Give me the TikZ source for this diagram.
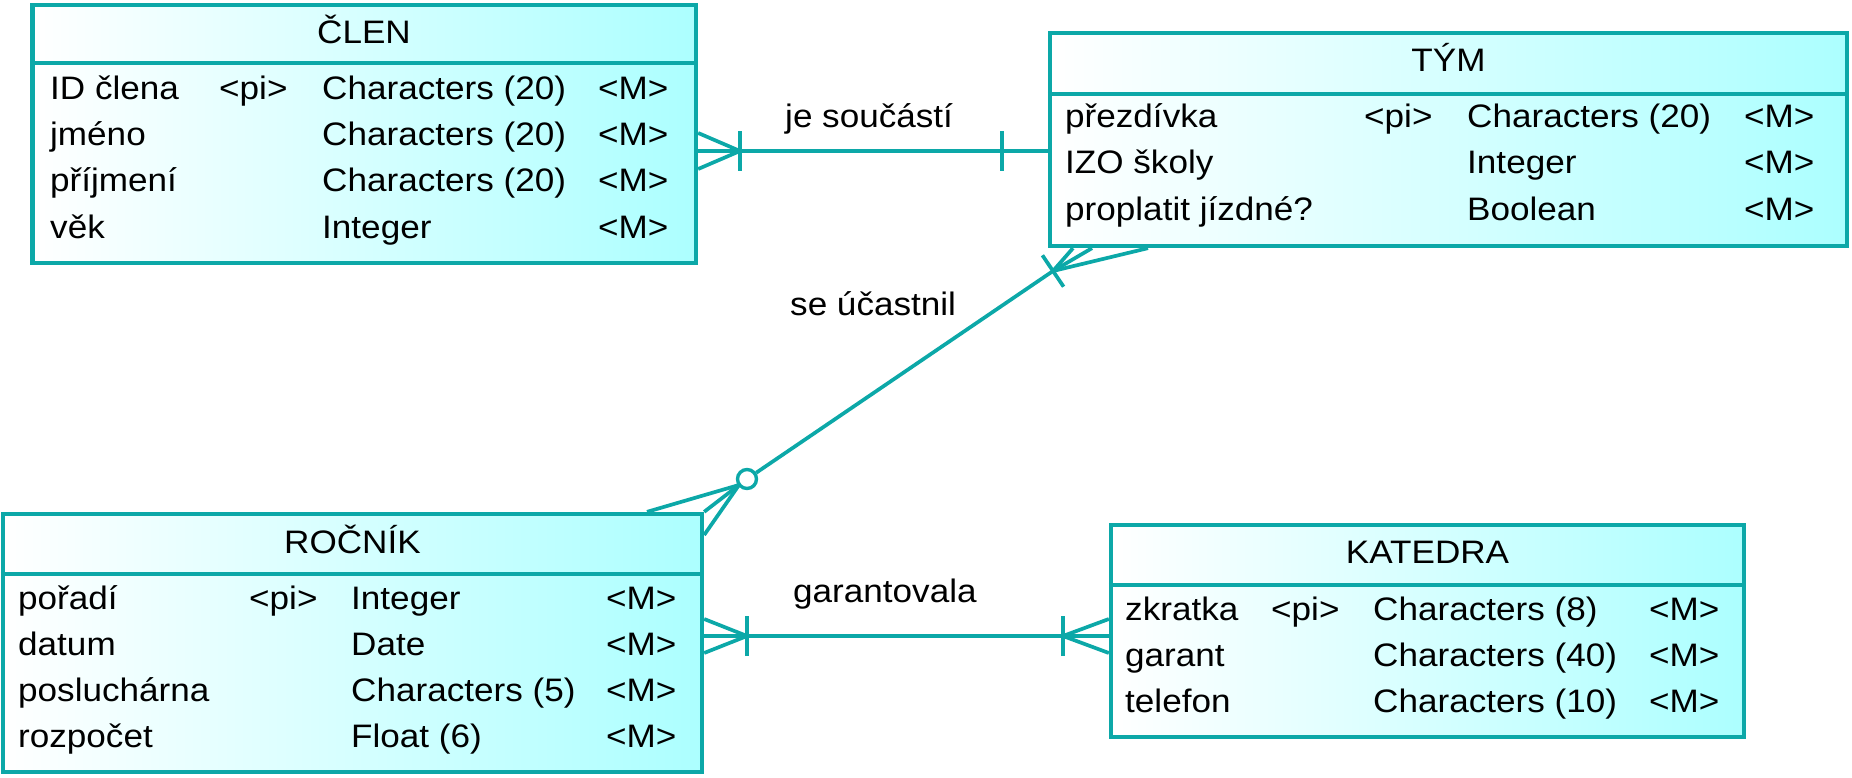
\documentclass[tikz,border=0pt]{standalone}
\usepackage{fontspec}
\setmainfont{Liberation Sans}[FakeStretch=1.08]
\definecolor{tealb}{RGB}{12,168,168}
\definecolor{cyanf}{RGB}{172,255,255}
\newcommand{\erfont}{\fontsize{32.5}{39}\selectfont}
\begin{document}
\begin{tikzpicture}[x=1pt,y=-1pt,
  ent/.style={draw=tealb, line width=4.3pt, left color=white, right color=cyanf, inner sep=0pt, rectangle},
  entline/.style={draw=tealb, line width=4.3pt},
  rel/.style={draw=tealb, line width=3.7pt, line join=round},
  txt/.style={anchor=base west, inner sep=0pt, font=\erfont, text=black},
  hdr/.style={anchor=base, inner sep=0pt, font=\erfont, text=black}]
\useasboundingbox (0,0) rectangle (1852,778);

% ---------- entities ----------
\node[ent, minimum width=663.5pt, minimum height=258pt] (clen) at (364.25,134) {};
\node[ent, minimum width=797pt, minimum height=213pt] (tym) at (1448.5,139.5) {};
\node[ent, minimum width=699pt, minimum height=258pt] (rocnik) at (352.5,643) {};
\node[ent, minimum width=633pt, minimum height=212pt] (katedra) at (1427.5,631) {};

\draw[entline] (clen.west |- 0,63) -- (clen.east |- 0,63);
\draw[entline] (tym.west |- 0,94) -- (tym.east |- 0,94);
\draw[entline] (rocnik.west |- 0,574) -- (rocnik.east |- 0,574);
\draw[entline] (katedra.west |- 0,585) -- (katedra.east |- 0,585);

% ---------- ČLEN ----------
\node[hdr] (clenh) at (364,44) {ČLEN};
\node[txt] (c1a) at (50,100) {ID člena};
\node[txt] (c1b) at (219,100) {<pi>};
\node[txt] (c1c) at (322,100) {Characters (20)};
\node[txt] (c1d) at (598,100) {<M>};
\node[txt] (c2a) at (50,146) {jméno};
\node[txt] (c2c) at (322,146) {Characters (20)};
\node[txt] (c2d) at (598,146) {<M>};
\node[txt] (c3a) at (50,192) {příjmení};
\node[txt] (c3c) at (322,192) {Characters (20)};
\node[txt] (c3d) at (598,192) {<M>};
\node[txt] (c4a) at (50,238) {věk};
\node[txt] (c4c) at (322,238) {Integer};
\node[txt] (c4d) at (598,238) {<M>};

% ---------- TÝM ----------
\node[hdr] (tymh) at (1448.5,72) {TÝM};
\node[txt] (t1a) at (1065,128) {přezdívka};
\node[txt] (t1b) at (1364,128) {<pi>};
\node[txt] (t1c) at (1467,128) {Characters (20)};
\node[txt] (t1d) at (1744,128) {<M>};
\node[txt] (t2a) at (1065,174) {IZO školy};
\node[txt] (t2c) at (1467,174) {Integer};
\node[txt] (t2d) at (1744,174) {<M>};
\node[txt] (t3a) at (1065,220) {proplatit jízdné?};
\node[txt] (t3c) at (1467,220) {Boolean};
\node[txt] (t3d) at (1744,220) {<M>};

% ---------- ROČNÍK ----------
\node[hdr] (rocnikh) at (352.5,553) {ROČNÍK};
\node[txt] (r1a) at (18,609) {pořadí};
\node[txt] (r1b) at (249,609) {<pi>};
\node[txt] (r1c) at (351,609) {Integer};
\node[txt] (r1d) at (606,609) {<M>};
\node[txt] (r2a) at (18,655) {datum};
\node[txt] (r2c) at (351,655) {Date};
\node[txt] (r2d) at (606,655) {<M>};
\node[txt] (r3a) at (18,701) {posluchárna};
\node[txt] (r3c) at (351,701) {Characters (5)};
\node[txt] (r3d) at (606,701) {<M>};
\node[txt] (r4a) at (18,747) {rozpočet};
\node[txt] (r4c) at (351,747) {Float (6)};
\node[txt] (r4d) at (606,747) {<M>};

% ---------- KATEDRA ----------
\node[hdr] (katedrah) at (1427.5,563) {KATEDRA};
\node[txt] (k1a) at (1125,620) {zkratka};
\node[txt] (k1b) at (1271,620) {<pi>};
\node[txt] (k1c) at (1373,620) {Characters (8)};
\node[txt] (k1d) at (1649,620) {<M>};
\node[txt] (k2a) at (1125,666) {garant};
\node[txt] (k2c) at (1373,666) {Characters (40)};
\node[txt] (k2d) at (1649,666) {<M>};
\node[txt] (k3a) at (1125,712) {telefon};
\node[txt] (k3c) at (1373,712) {Characters (10)};
\node[txt] (k3d) at (1649,712) {<M>};

% ---------- relationship labels ----------
\node[txt] (lab1) at (785,128) {je součástí};
\node[txt] (lab2) at (790,315) {se účastnil};
\node[txt] (lab3) at (793,602) {garantovala};

% ---------- ČLEN -- TÝM ----------
\coordinate (v1c) at (740,151);
\coordinate (v1t) at (1002,151);
\draw[rel] (clen.east |- v1c) -- (tym.west |- v1c);
\draw[rel] (clen.east |- 0,133) -- (v1c) -- (clen.east |- 0,169);
\draw[rel] ([yshift=-20pt]v1c) -- ([yshift=20pt]v1c);
\draw[rel] ([yshift=-20pt]v1t) -- ([yshift=20pt]v1t);

% ---------- TÝM -- ROČNÍK ----------
\coordinate (v2t) at (1053,271);
\coordinate (b2a) at (1042.4,255.3);
\coordinate (b2b) at (1063.6,286.7);
\node[circle, draw=tealb, line width=3.4pt, fill=white, minimum size=19pt, inner sep=0pt] (circ) at (747,479) {};
\coordinate (v2r) at (739,485);
\draw[rel] (tym.south -| 1073,0) -- (v2t) -- (tym.south -| 1148,0);
\draw[rel] (tym.south -| 1092,0) -- (v2t) -- (circ);
\draw[rel] (b2a) -- (b2b);
\draw[rel] (rocnik.north -| 647,0) -- (v2r) -- (rocnik.east |- 0,535);
\draw[rel] (v2r) -- (rocnik.north east);

% ---------- ROČNÍK -- KATEDRA ----------
\coordinate (v3r) at (747,636);
\coordinate (v3k) at (1063,636);
\draw[rel] (rocnik.east |- v3r) -- (katedra.west |- v3r);
\draw[rel] (rocnik.east |- 0,619) -- (v3r) -- (rocnik.east |- 0,653);
\draw[rel] (katedra.west |- 0,619) -- (v3k) -- (katedra.west |- 0,653);
\draw[rel] ([yshift=-20pt]v3r) -- ([yshift=20pt]v3r);
\draw[rel] ([yshift=-20pt]v3k) -- ([yshift=20pt]v3k);
\end{tikzpicture}
\end{document}
